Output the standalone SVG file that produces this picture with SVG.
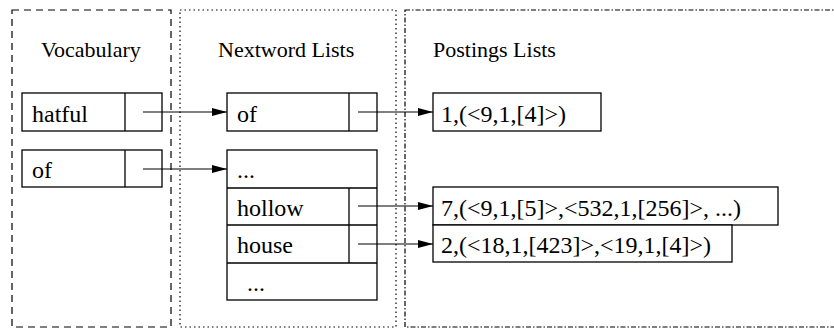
<svg xmlns="http://www.w3.org/2000/svg" width="834" height="329" viewBox="0 0 834 329">
<defs>
<style>
text{font-family:"Liberation Serif","Times New Roman",serif;font-size:24px;fill:#000}
text.head{font-size:22px}
.box{fill:#fff;stroke:#000;stroke-width:1.3}
.div{stroke:#000;stroke-width:1.3}
.edge{stroke:#000;stroke-width:1;fill:none;marker-end:url(#ah)}
</style>
<marker id="ah" viewBox="0 0 15 8" refX="15" refY="4" markerWidth="15" markerHeight="8" markerUnits="userSpaceOnUse" orient="auto">
<path d="M0,0 L15,4 L0,8 Z" fill="#000"/>
</marker>
</defs>
<rect width="834" height="329" fill="#fff"/>
<g id="region-vocabulary">
<rect x="12" y="10" width="159" height="317" fill="none" stroke="#000" stroke-width="1.2" stroke-dasharray="7,5"/>
<text class="head" x="41" y="57">Vocabulary</text>
</g>
<g id="region-nextword">
<rect x="180" y="10" width="216" height="317" fill="none" stroke="#000" stroke-width="1.2" stroke-dasharray="1.5,3"/>
<text class="head" x="218" y="57">Nextword Lists</text>
</g>
<g id="region-postings">
<rect x="405" y="10" width="440" height="317" fill="none" stroke="#000" stroke-width="1.2" stroke-dasharray="5,2,1.5,2"/>
<text class="head" x="433" y="57">Postings Lists</text>
</g>
<g id="vocab-hatful">
<rect class="box" x="22" y="93" width="140" height="38"/>
<line class="div" x1="125" y1="93" x2="125" y2="131"/>
<text x="32" y="121.5">hatful</text>
</g>
<g id="vocab-of">
<rect class="box" x="22" y="150" width="140" height="37"/>
<line class="div" x1="125" y1="150" x2="125" y2="187"/>
<text x="32" y="178">of</text>
</g>
<g id="next-of">
<rect class="box" x="227" y="93" width="150" height="38"/>
<line class="div" x1="349" y1="93" x2="349" y2="131"/>
<text x="237" y="121.5">of</text>
</g>
<g id="next-list">
<rect class="box" x="227" y="150" width="150" height="150"/>
<line class="div" x1="227" y1="188" x2="377" y2="188"/>
<line class="div" x1="227" y1="225" x2="377" y2="225"/>
<line class="div" x1="227" y1="263" x2="377" y2="263"/>
<line class="div" x1="349" y1="188" x2="349" y2="263"/>
<text x="237" y="178">...</text>
<text x="237" y="216">hollow</text>
<text x="237" y="253">house</text>
<text x="247" y="291">...</text>
</g>
<g id="post-1">
<rect class="box" x="433" y="93" width="168" height="38"/>
<text x="441" y="121.5">1,(&lt;9,1,[4]&gt;)</text>
</g>
<g id="post-7">
<rect class="box" x="433" y="187" width="345" height="38"/>
<text x="441" y="216">7,(&lt;9,1,[5]&gt;,&lt;532,1,[256]&gt;, ...)</text>
</g>
<g id="post-2">
<rect class="box" x="433" y="225" width="299" height="37"/>
<text x="441" y="253">2,(&lt;18,1,[423]&gt;,&lt;19,1,[4]&gt;)</text>
</g>
<g id="connectors">
<line class="edge" x1="143" y1="112" x2="227" y2="112"/>
<line class="edge" x1="143" y1="169" x2="227" y2="169"/>
<line class="edge" x1="358" y1="112" x2="433" y2="112"/>
<line class="edge" x1="358" y1="206" x2="433" y2="206"/>
<line class="edge" x1="358" y1="244" x2="433" y2="244"/>
</g>
</svg>
